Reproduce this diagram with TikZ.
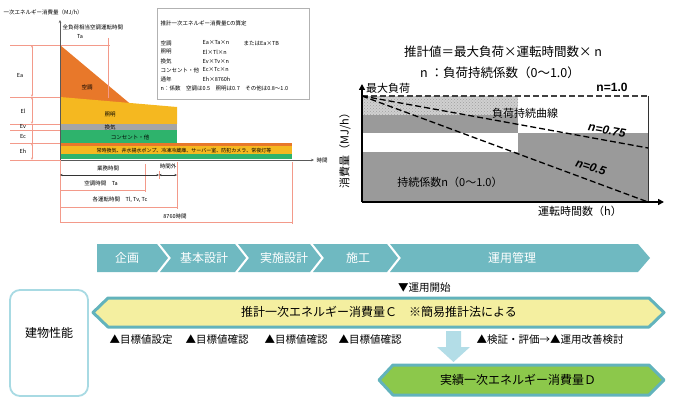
\documentclass[tikz,border=0pt]{standalone}
\usepackage{fontspec}
\setmainfont{Noto Sans CJK JP}
\newfontfamily\lsans{Liberation Sans}
\usetikzlibrary{arrows.meta,patterns}
\definecolor{cOrange}{HTML}{E8782A}
\definecolor{cYellow}{HTML}{F5B820}
\definecolor{cGray}{HTML}{A5A5A5}
\definecolor{cGreen}{HTML}{2EB36C}
\definecolor{cRed}{HTML}{F39A8A}
\definecolor{cTeal}{HTML}{6FB9C1}
\definecolor{cBarLine}{HTML}{62B3BC}
\definecolor{cBarYel}{HTML}{F4EFA0}
\definecolor{cBarGrn}{HTML}{8CC84B}
\definecolor{cArrow}{HTML}{B3DDE7}
\definecolor{cBox}{HTML}{A8DAE3}
\definecolor{cDark}{HTML}{9A9A9A}
\definecolor{cLight}{HTML}{D0D0D0}
\tikzset{
  tiny/.style={font=\fontsize{5.5}{6}\selectfont, inner sep=0.5pt},
  redln/.style={draw=cRed, line width=0.7pt},
  reddim/.style={draw=cRed, line width=0.7pt, {Stealth[length=2.5pt,width=2pt]}-{Stealth[length=2.5pt,width=2pt]}},
  chev/.style={fill=cTeal},
  chevtxt/.style={text=white, font=\fontsize{12}{12}\selectfont},
  jtxt/.style={font=\fontsize{11}{12}\selectfont, inner sep=1pt},
  marktxt/.style={font=\fontsize{10.5}{11}\selectfont, inner sep=1pt},
  bar/.style={draw=cBarLine, line width=3pt, line join=round},
  dashln/.style={dash pattern=on 6pt off 3pt, line width=1.3pt},
  bignum/.style={font=\lsans\bfseries\itshape\fontsize{12}{12}\selectfont, inner sep=0pt},
}
\begin{document}
\begin{tikzpicture}[x=1pt,y=-1pt]
\useasboundingbox (0,0) rectangle (674,398);

%================ top-left chart =================
\fill[cOrange] (60,45) -- (60,112) -- (140,112) -- cycle;
\fill[cYellow] (60,97) -- (177,107) -- (177,124) -- (60,124) -- cycle;
\fill[cGray] (60,124) rectangle (177,130);
\fill[cGreen] (60,130) rectangle (177,143);
\fill[cOrange] (60,143) rectangle (292,146.5);
\fill[cYellow] (60,146.5) rectangle (292,154);
\fill[cGreen] (60,154) rectangle (292,159.5);

% guide lines
\foreach \yy in {97,124,130,143,160} \draw[redln] (10,\yy) -- (60,\yy);
\draw[redln] (10,45) -- (110,45);
\draw[redln] (108,38) -- (108,98);
\draw[reddim] (32,45) -- (32,97);
\draw[reddim] (32,97) -- (32,124);
\draw[redln] (32,124) -- (32,130);
\draw[redln] (32,130) -- (32,143);
\draw[reddim] (32,143) -- (32,160);

% axes
\coordinate (tlO) at (60,160);
\coordinate (tlY) at (60,20);
\coordinate (tlX) at (314,160);
\draw[gray!70!black, line width=0.7pt, -{Stealth[length=3pt,width=2.5pt]}] (tlO) -- (tlY);
\draw[gray!70!black, line width=0.7pt, -{Stealth[length=3pt,width=2.5pt]}] (tlO) -- (tlX);

\node[tiny, anchor=west] (tlYt) at (3,13) {一次エネルギー消費量（MJ/h）};
\node[tiny, anchor=west] (tlFull) at (62,27) {全負荷相当空調運転時間};
\node[tiny] (tlTa) at (80,37) {Ta};
\node[tiny, anchor=west] (tlXt) at (316,160) {時間};
\node[tiny] (lEa) at (20,76) {Ea};
\node[tiny] (lEl) at (23,111) {El};
\node[tiny] (lEv) at (23,126) {Ev};
\node[tiny] (lEc) at (23,137) {Ec};
\node[tiny] (lEh) at (23,151) {Eh};
\node[tiny] (bAir) at (87,87) {空調};
\node[tiny] (bLight) at (110,115) {照明};
\node[tiny] (bVent) at (110,127) {換気};
\node[tiny] (bPlug) at (130,137) {コンセント・他};
\node[tiny, font=\fontsize{5}{5.5}\selectfont] (bBase) at (184,150.5) {常時換気、井水揚水ポンプ、冷凍冷蔵庫、サーバー室、防犯カメラ、常夜灯等};

% bottom dimensions
\draw[redln] (60,160) -- (60,223);
\draw[redln] (145,164) -- (145,192);
\draw[redln] (159,171) -- (159,179);
\draw[redln] (177,162) -- (177,209);
\draw[redln] (292,162) -- (292,224);
\coordinate (dA) at (60,175);
\coordinate (dB) at (159,175);
\coordinate (dC) at (177,175);
\draw[gray!40!black, line width=0.6pt, {Stealth[length=2.5pt,width=2pt]}-{Stealth[length=2.5pt,width=2pt]}] (dA) -- (dB);
\draw[gray!40!black, line width=0.6pt, {Stealth[length=2.5pt,width=2pt]}-{Stealth[length=2.5pt,width=2pt]}] (dB) -- (dC);
\node[tiny] (tWork) at (108,168) {業務時間};
\node[tiny] (tOver) at (168,166) {時間外};
\draw[redln] (60,190) -- (145,190);
\node[tiny] (tAir) at (101,183) {空調時間　Ta};
\draw[redln] (60,207) -- (177,207);
\node[tiny] (tEach) at (120,200) {各運転時間　Tl, Tv, Tc};
\draw[redln] (60,222) -- (292,222);
\node[tiny] (t8760) at (175,216) {8760時間};

% formula box
\draw[gray!60, line width=0.6pt] (157,8) rectangle (309,99);
\node[tiny, anchor=west] (fT) at (160,23) {推計一次エネルギー消費量Cの算定};
\node[tiny, anchor=west] (f1) at (160,43) {空調};
\node[tiny, anchor=west] (f1b) at (202,43) {Ea×Ta×n};
\node[tiny, anchor=west] (f1c) at (243,43) {またはEa×TB};
\node[tiny, anchor=west] (f2) at (160,52) {照明};
\node[tiny, anchor=west] (f2b) at (202,52) {El×Tl×n};
\node[tiny, anchor=west] (f3) at (160,61) {換気};
\node[tiny, anchor=west] (f3b) at (202,61) {Ev×Tv×n};
\node[tiny, anchor=west] (f4) at (160,70) {コンセント・他};
\node[tiny, anchor=west] (f4b) at (202,70) {Ec×Tc×n};
\node[tiny, anchor=west] (f5) at (160,79) {通年};
\node[tiny, anchor=west] (f5b) at (202,79) {Eh×8760h};
\node[tiny, anchor=west] (f6) at (160,88) {n：係数　空調は0.5　照明は0.7　その他は0.8～1.0};

%================ top-right chart =================
\node[font=\fontsize{12.5}{13}\selectfont] (rt1) at (503,52) {推計値＝最大負荷×運転時間数× n};
\node[font=\fontsize{12.5}{13}\selectfont] (rt2) at (500,73) {n ：負荷持続係数（0～1.0）};

\fill[cLight] (362,96) rectangle (518,115);
\fill[pattern=crosshatch dots, pattern color=gray!75] (362,96) rectangle (518,115);
\fill[cDark] (362,115) rectangle (518,133);
\fill[cDark] (518,133) rectangle (648,202);
\fill[cDark] (362,152) rectangle (518,202);

\coordinate (rO) at (362,202);
\coordinate (rTop) at (362,84);
\coordinate (rEnd) at (664,202);
\coordinate (rA) at (362,96);
\coordinate (rB) at (648,96);
\coordinate (rC) at (648,148);
\coordinate (rD) at (648,202);
\draw[gray!40!black, line width=0.8pt] (rB) -- (rD);
\draw[dashln, gray!50!black] (rA) -- (rB);
\draw[dashln, black] (rA) -- (rC);
\draw[dashln, black] (rA) -- (rD);
\draw[line width=2.3pt, -{Triangle[length=6pt,width=6pt]}] (rO) -- (rTop);
\draw[line width=2.3pt, -{Triangle[length=6pt,width=6pt]}] (rO) -- (rEnd);

\node[jtxt, anchor=west] (rMax) at (365,88) {最大負荷};
\node[font=\lsans\bfseries\fontsize{12}{12}\selectfont] (rN1) at (612,87) {n=1.0};
\node[jtxt] (rCurve) at (525,113) {負荷持続曲線};
\node[bignum, rotate=-10] (rN75) at (607,130) {n=0.75};
\node[bignum, rotate=-18] (rN5) at (591,167) {n=0.5};
\node[jtxt] (rCoef) at (450,182) {持続係数n（0～1.0）};
\node[jtxt] (rXt) at (580,211) {運転時間数（h）};
\node[jtxt, rotate=90] (rYt) at (345,148) {消費量（MJ/h）};

%================ process flow =================
\fill[chev] (97,244) -- (157,244) -- (168,258) -- (157,272) -- (97,272) -- cycle;
\fill[chev] (160,244) -- (235,244) -- (246,258) -- (235,272) -- (160,272) -- (171,258) -- cycle;
\fill[chev] (238,244) -- (310,244) -- (321,258) -- (310,272) -- (238,272) -- (249,258) -- cycle;
\fill[chev] (313,244) -- (387,244) -- (398,258) -- (387,272) -- (313,272) -- (324,258) -- cycle;
\fill[chev] (390,244) -- (638,244) -- (650,258) -- (638,272) -- (390,272) -- (401,258) -- cycle;
\node[chevtxt] (p1) at (127,258) {企画};
\node[chevtxt] (p2) at (204,258) {基本設計};
\node[chevtxt] (p3) at (284,258) {実施設計};
\node[chevtxt] (p4) at (358,258) {施工};
\node[chevtxt] (p5) at (512,258) {運用管理};

\node[marktxt, anchor=west] (start) at (397,288) {▼運用開始};

% building performance box
\draw[cBox, line width=1.8pt, rounded corners=10pt] (10,290) rectangle (88,396);
\node[font=\fontsize{12}{12}\selectfont] (bld) at (49,333) {建物性能};

% estimated bar
\draw[bar, fill=cBarYel] (93,312.5) -- (108,298) -- (649,298) -- (664,312.5) -- (649,327) -- (108,327) -- cycle;
\node[font=\fontsize{12}{12}\selectfont] (estC) at (379,312) {推計一次エネルギー消費量Ｃ　※簡易推計法による};

\node[marktxt] (m1) at (141,340) {▲目標値設定};
\node[marktxt] (m2) at (217,340) {▲目標値確認};
\node[marktxt] (m3) at (296,340) {▲目標値確認};
\node[marktxt] (m4) at (370,340) {▲目標値確認};
\node[marktxt] (m5) at (550,340) {▲検証・評価→▲運用改善検討};

% down arrow
\fill[cArrow] (446,331) -- (461,331) -- (461,347) -- (470,347) -- (453.5,362) -- (437,347) -- (446,347) -- cycle;

% actual bar
\draw[bar, fill=cBarGrn] (379,380) -- (393,365) -- (649,365) -- (664,380) -- (649,395) -- (393,395) -- cycle;
\node[font=\fontsize{12}{12}\selectfont] (actD) at (518,380) {実績一次エネルギー消費量Ｄ};
\end{tikzpicture}
\end{document}
